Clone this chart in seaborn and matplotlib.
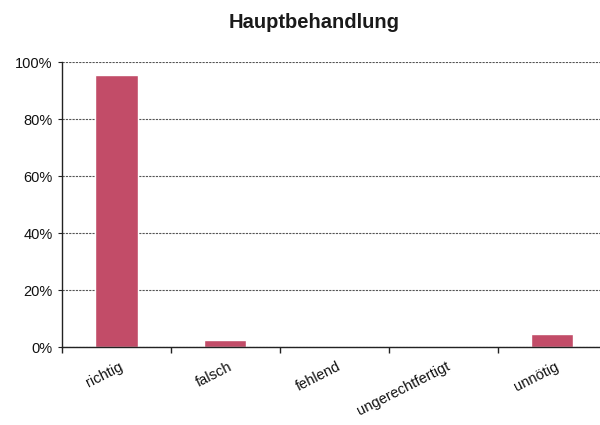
import pandas as pd
import seaborn as sns
import matplotlib.pyplot as plt
import matplotlib.transforms as mtransforms
from matplotlib.ticker import PercentFormatter

# Werte (Prozent)
categories = ["richtig", "falsch", "fehlend", "ungerechtfertigt", "unnötig"]
values = [95.3, 2.4, 0.0, 0.0, 4.7]
y_ticks = [0, 20, 40, 60, 80, 100]

sns.set_style("white")
plt.rcParams['font.family'] = ['Liberation Sans', 'DejaVu Sans']

df = pd.DataFrame({"Kategorie": categories, "Anteil": values})

fig = plt.figure(figsize=(6, 4.25), dpi=100)
ax = fig.add_axes([0.103, 0.1835, 0.908, 0.6706])

sns.barplot(data=df, x="Kategorie", y="Anteil", color="#c24c68",
            saturation=1, width=0.39, ax=ax)

ax.set_ylim(0, 100)
ax.set_xlim(-0.5, len(categories) - 0.5)
ax.set_yticks(y_ticks)
ax.yaxis.set_major_formatter(PercentFormatter(decimals=0))
ax.yaxis.grid(True, linestyle=(0, (2, 1)), color="#555555", linewidth=0.8)
ax.set_axisbelow(True)

ax.set_xlabel("")
ax.set_ylabel("")
fig.text(314 / 600, 1 - 23 / 425, "Hauptbehandlung", fontsize=14.5, fontweight="bold",
         ha="center", va="center", color="#1a1a1a")

for side in ["top", "right"]:
    ax.spines[side].set_visible(False)
for side in ["left", "bottom"]:
    ax.spines[side].set_color("#222222")
    ax.spines[side].set_linewidth(1.0)

# Kategorie-Trennstriche wie in Excel
ax.set_xticks(range(len(categories)))
ax.set_xticks([i - 0.5 for i in range(len(categories) + 1)], minor=True)
ax.tick_params(axis="x", which="minor", bottom=True, length=4, width=1,
               direction="out", color="#222222")
ax.tick_params(axis="x", which="major", bottom=False, length=0, pad=9)
ax.tick_params(axis="y", length=3, direction="out", color="#222222",
               labelsize=10.5, labelcolor="#111111", left=True)
ax.set_xticklabels(categories, rotation=27, ha="right", fontsize=10.5,
                   color="#111111")

# Beschriftungen etwas nach rechts schieben
shift = mtransforms.ScaledTranslation(9 / 100, 0, fig.dpi_scale_trans)
for lbl in ax.get_xticklabels():
    lbl.set_transform(lbl.get_transform() + shift)

fig.savefig("out.png", dpi=100)
